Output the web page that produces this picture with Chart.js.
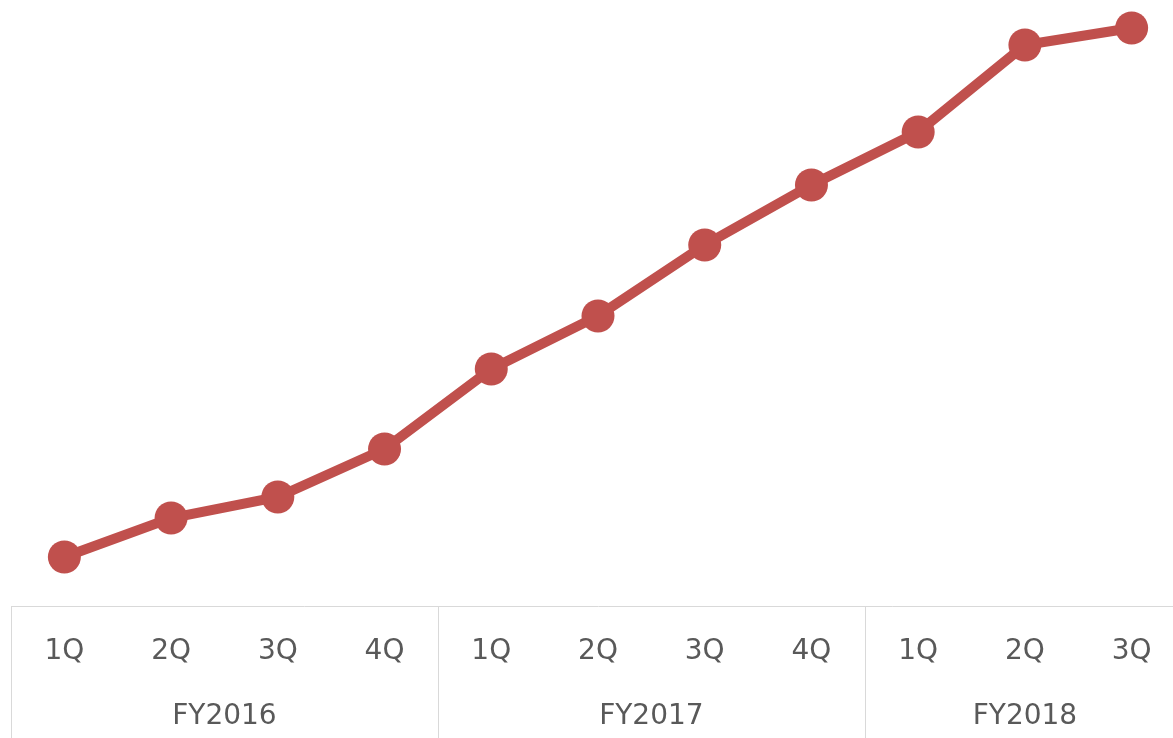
<!DOCTYPE html>
<html>
<head>
<meta charset="utf-8">
<script src="https://cdn.jsdelivr.net/npm/chart.js@4"></script>
<style>
  html, body { margin: 0; padding: 0; background: #fff; overflow: hidden; }
  #wrap { width: 1185px; height: 738px; position: relative; }
</style>
</head>
<body>
<div id="wrap"><canvas id="chart"></canvas></div>
<script>
// quarters on the x axis
const quarterLabels = ['1Q', '2Q', '3Q', '4Q', '1Q', '2Q', '3Q', '4Q', '1Q', '2Q', '3Q'];
// fiscal year groups and how many quarters each one spans
const fyLabels = ['FY2016', 'FY2017', 'FY2018'];
const fySizes = [4, 4, 3];
// series values (no y axis shown, read as relative heights)
const values = [49, 88, 109, 157, 237, 290, 361, 421, 474, 561, 578];

const lineColor = '#C0504D';
const textColor = '#595959';
const sepColor = '#d9d9d9';
const font = { family: '"DejaVu Sans", Verdana, sans-serif', size: 28 };

// group boundaries and centers in category index space
const fyBounds = [-0.5];
const fyCenters = [];
fySizes.forEach(n => {
    const start = fyBounds[fyBounds.length - 1];
    fyCenters.push(start + n / 2);
    fyBounds.push(start + n);
});

// vertical separators between year groups, below the axis line
const separators = {
    id: 'separators',
    afterDraw(chart) {
        const x = chart.scales.x;
        const c = chart.ctx;
        c.save();
        c.strokeStyle = sepColor;
        c.lineWidth = 1;
        fyBounds.forEach(b => {
            const px = Math.round(x.getPixelForValue(b)) + 0.5;
            c.beginPath();
            c.moveTo(px, x.top);
            c.lineTo(px, chart.height);
            c.stroke();
        });
        c.restore();
    }
};

new Chart(document.getElementById('chart'), {
    type: 'line',
    data: {
        labels: quarterLabels,
        datasets: [{
            data: values,
            borderColor: lineColor,
            backgroundColor: lineColor,
            borderWidth: 10,
            pointRadius: 16.5,
            pointHoverRadius: 16.5,
            pointBackgroundColor: lineColor,
            pointBorderWidth: 0,
            tension: 0,
            clip: false
        }]
    },
    options: {
        responsive: true,
        maintainAspectRatio: false,
        animation: false,
        layout: { autoPadding: false, padding: { left: 11, right: 0, top: 0, bottom: 0 } },
        plugins: {
            legend: { display: false },
            tooltip: { enabled: false }
        },
        scales: {
            y: {
                display: false,
                min: 0,
                max: 606
            },
            x: {
                type: 'category',
                position: 'bottom',
                offset: true,
                grid: { display: false, drawTicks: false },
                border: { display: true, color: sepColor, width: 1 },
                ticks: { color: textColor, font: font, padding: 29, maxRotation: 0, autoSkip: false },
                afterFit(scale) { scale.height = 74; }
            },
            fy: {
                type: 'linear',
                position: 'bottom',
                min: -0.5,
                max: quarterLabels.length - 0.5,
                grid: { display: false, drawTicks: false },
                border: { display: false },
                afterBuildTicks(scale) {
                    scale.ticks = fyCenters.map(v => ({ value: v }));
                },
                ticks: {
                    color: textColor,
                    font: font,
                    padding: 20,
                    maxRotation: 0,
                    autoSkip: false,
                    callback: (v, i) => fyLabels[i]
                },
                afterFit(scale) { scale.height = 58; }
            }
        }
    },
    plugins: [separators]
});
</script>
</body>
</html>
